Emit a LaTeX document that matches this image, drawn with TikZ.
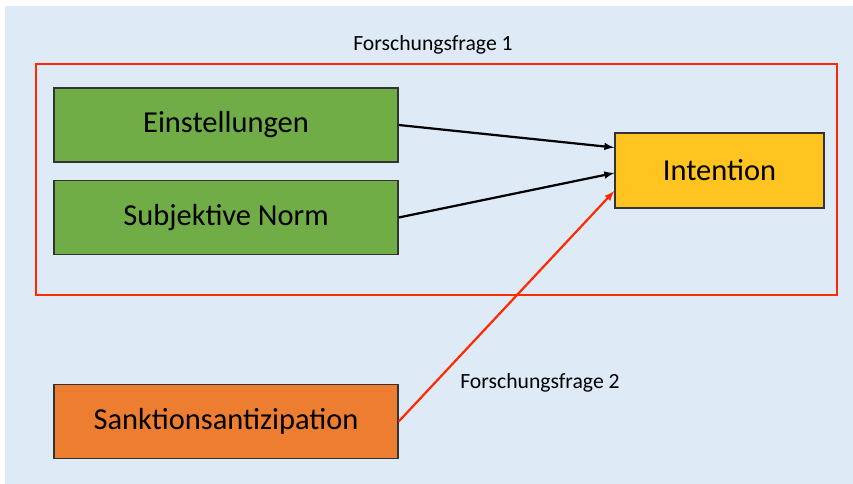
\documentclass[tikz,border=0pt]{standalone}
\usepackage{fontspec}
\setmainfont{Carlito}
\usetikzlibrary{shapes,arrows,positioning}
\usepackage{xcolor}
\definecolor{bgblue}{HTML}{DEEBF7}
\definecolor{boxgreen}{HTML}{70AD47}
\definecolor{boxorange}{HTML}{ED7D31}
\definecolor{boxyellow}{HTML}{FFC41F}
\definecolor{framered}{HTML}{FF2A00}
\newlength{\pxu}
\setlength{\pxu}{0.03cm}

\tikzset{
  factor/.style={draw=black!80, line width=1.2pt, minimum width=344\pxu, minimum height=74\pxu,
    inner sep=0pt, font=\fontsize{26}{30}\selectfont},
  question/.style={font=\fontsize{18.5}{22}\selectfont},
  link/.style={-latex, line width=1.9pt},
}

\begin{document}
\begin{tikzpicture}[x=0.03cm, y=-0.03cm]

% Canvas and background
\useasboundingbox (0,0) rectangle (853,484);
\fill[bgblue] (5,6) rectangle (853,484);

% Frame of research question 1
\draw[framered, line width=1.3pt] (36,64) rectangle (837,295);
\node[question] (rq1) at (433,45) {Forschungsfrage 1};

% Predictor boxes
\node[factor, fill=boxgreen] (einst) at (226,125) {Einstellungen\hspace{8\pxu}};
\node[factor, fill=boxgreen] (norm) at (226,217.5) {Subjektive Norm\hspace{8\pxu}};
\node[factor, fill=boxorange] (sankt) at (226,421.5) {Sanktionsantizipation\hspace{8\pxu}};

% Outcome box
\node[factor, fill=boxyellow, minimum width=209\pxu, minimum height=75\pxu] (intent) at (719.5,170.5) {Intention};

% Connections
\draw[link] (einst.east) -- ([yshift=23\pxu]intent.west);
\draw[link] (norm.east) -- ([yshift=-2.5\pxu]intent.west);
\draw[link, framered] (sankt.east) -- ([yshift=-20.5\pxu]intent.west);

\node[question] (rq2) at (540,383) {Forschungsfrage 2};

\end{tikzpicture}
\end{document}
